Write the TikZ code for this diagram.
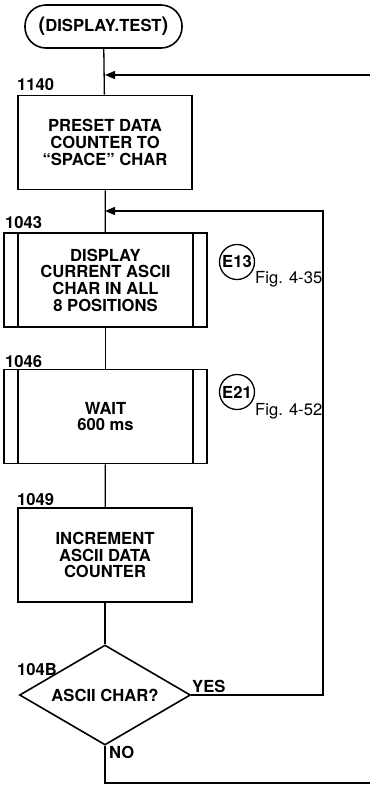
\documentclass[tikz,border=0pt]{standalone}
\usepackage{fontspec}
\setmainfont{TeX Gyre Heros}
\usetikzlibrary{arrows.meta,positioning,shapes.geometric}

\newcommand{\chartfont}{\fontsize{16.6}{16.7}\selectfont}

\begin{document}
\begin{tikzpicture}[x=1pt,y=-1pt,
      term/.style={draw,line width=1.6pt,rounded corners=21pt,minimum width=157pt,
                   minimum height=43pt,inner sep=0pt,font=\chartfont\bfseries},
      box/.style={draw,line width=1.6pt,minimum width=174pt,minimum height=94pt,
                  align=center,inner sep=2pt,font=\chartfont\bfseries},
      subr/.style={box,minimum width=203pt,
                   path picture={
                     \draw[line width=1.6pt] ([xshift=14pt]path picture bounding box.north west)
                       -- ([xshift=14pt]path picture bounding box.south west);
                     \draw[line width=1.6pt] ([xshift=-14pt]path picture bounding box.north east)
                       -- ([xshift=-14pt]path picture bounding box.south east);}},
      decide/.style={diamond,draw,line width=1.6pt,aspect=1.7,inner sep=0pt,
                     minimum width=171pt,minimum height=100pt,font=\chartfont\bfseries},
      ref/.style={circle,draw,line width=1.3pt,minimum size=35pt,inner sep=0pt,
                  font=\chartfont\bfseries},
      addr/.style={anchor=base west,inner sep=0pt,font=\chartfont\bfseries},
      fig/.style={anchor=west,inner sep=0pt,font=\chartfont},
      flow/.style={line width=1.3pt},
      merge/.style={flow,-{Triangle[length=10pt,width=8pt]}}]
    \useasboundingbox (0,0) rectangle (370,785);
    % main column
    \node[term]   (t0) at (103.5,26.5) {{\fontsize{20}{20}\selectfont(}DISPLAY.TEST{\fontsize{20}{20}\selectfont)}};
    \node[box]    (b1) at (105,142.5)  {PRESET DATA\\COUNTER TO\\“SPACE” CHAR};
    \node[subr]   (d1) at (105.5,280)  {DISPLAY\\CURRENT ASCII\\CHAR IN ALL\\8 POSITIONS};
    \node[subr]   (d2) at (105.5,416.5) {WAIT\\600 ms};
    \node[box]    (b2) at (105,555)    {INCREMENT\\ASCII DATA\\COUNTER};
    \node[decide] (q1) at (105,695)    {ASCII CHAR?};
    % addresses
    \node[addr] (a1) at (17,90)  {1140};
    \node[addr] (a2) at (5,228)  {1043};
    \node[addr] (a3) at (5,367)  {1046};
    \node[addr] (a4) at (17,505) {1049};
    \node[addr] (a5) at (17,675) {104B};
    % references
    \node[ref] (e13) at (237,262) {E13};
    \node[fig] (f1)  at (255,279) {Fig. 4-35};
    \node[ref] (e21) at (237,392) {E21};
    \node[fig] (f2)  at (255,411) {Fig. 4-52};
    % connectors
    \coordinate (in1) at (370,75);
    \coordinate (m1)  at (105,75);
    \coordinate (m2)  at (105,211);
    \coordinate (rx)  at (323,211);
    \coordinate (out1) at (370,783);
    \foreach \a/\b in {t0/b1,b1/d1,d1/d2,d2/b2,b2/q1} \draw[flow] (\a) -- (\b);
    \draw[merge] (in1) -- (m1);
    \draw[merge] (q1.east) -| (rx) -- (m2);
    \draw[flow] (q1.south) |- (out1);
    \node[addr] (yes) at (192,692) {YES};
    \node[addr] (no)  at (109,758) {NO};
  \end{tikzpicture}
\end{document}
